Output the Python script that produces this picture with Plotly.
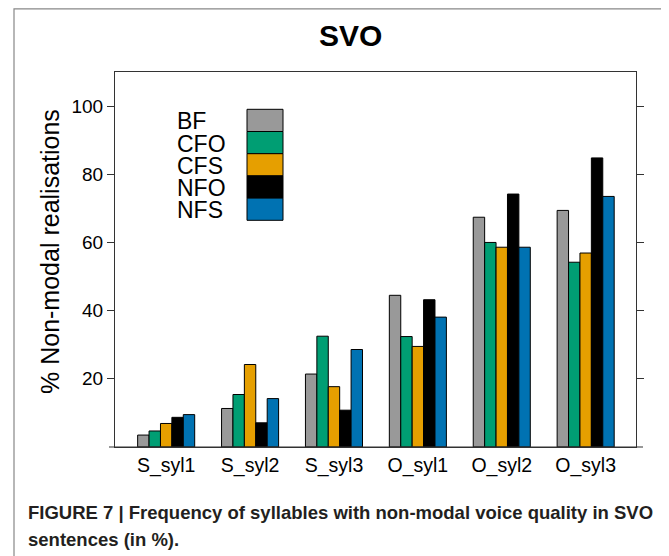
import plotly.graph_objects as go

categories = ["S_syl1", "S_syl2", "S_syl3", "O_syl1", "O_syl2", "O_syl3"]
series_names = ["BF", "CFO", "CFS", "NFO", "NFS"]
BF = [3.5, 11.3, 21.4, 44.5, 67.4, 69.4]
CFO = [4.7, 15.4, 32.5, 32.4, 60.0, 54.2]
CFS = [6.9, 24.2, 17.7, 29.5, 58.6, 56.9]
NFO = [8.7, 7.1, 10.8, 43.2, 74.2, 84.8]
NFS = [9.5, 14.2, 28.6, 38.1, 58.6, 73.5]
series_values = [BF, CFO, CFS, NFO, NFS]
colors = ["#999999", "#009E73", "#E69F00", "#000000", "#0072B2"]
y_ticks = [20, 40, 60, 80, 100]

# the page body has an 8px margin, so work in page pixels and shift
OFF = 8
W, H = 669 - OFF, 556 - OFF
L, R, T, B = 115 - OFF, 33, 72 - OFF, 109
PW, PH = W - L - R, H - T - B

def px(x):
    return (x - OFF - L) / PW

def py(y):
    return (H - B - (y - OFF)) / PH

fig = go.Figure()
for name, vals, col in zip(series_names, series_values, colors):
    fig.add_trace(go.Bar(x=categories, y=vals, name=name, marker_color=col,
                         marker_line_color="#000000", marker_line_width=1,
                         showlegend=False))

FONT = "Liberation Sans, Arial, sans-serif"
shapes = []
annotations = []

# manual legend (labels left, swatches right)
row_h = 22.2
top0 = 109.3
for i, (name, col) in enumerate(zip(series_names, colors)):
    y_top = top0 + i * row_h
    shapes.append(dict(type="rect", xref="paper", yref="paper",
                       x0=px(247), x1=px(283), y0=py(y_top), y1=py(y_top + row_h),
                       fillcolor=col, line=dict(color="#000000", width=1)))
    annotations.append(dict(xref="paper", yref="paper", x=px(175), y=py(y_top + row_h / 2 + 1),
                            text=name, showarrow=False, xanchor="left", yanchor="middle",
                            font=dict(family=FONT, size=23, color="#000000")))

# extended bottom axis line
shapes.append(dict(type="line", xref="paper", yref="paper", x0=px(109), x1=px(643),
                   y0=0, y1=0, line=dict(color="#333333", width=1.2)))
# outer figure frame
shapes.append(dict(type="rect", xref="paper", yref="paper", x0=px(14), x1=px(667),
                   y0=py(8.8), y1=py(600), line=dict(color="#888888", width=1.2),
                   fillcolor="rgba(0,0,0,0)"))

# title
annotations.append(dict(xref="paper", yref="paper", x=px(350.5), y=py(36),
                        text="<b>SVO</b>", showarrow=False, xanchor="center", yanchor="middle",
                        font=dict(family=FONT, size=30, color="#000000")))
# y-axis title
annotations.append(dict(xref="paper", yref="paper", x=px(50), y=py(252),
                        text="% Non-modal realisations", showarrow=False, textangle=-90,
                        xanchor="center", yanchor="middle",
                        font=dict(family=FONT, size=25, color="#000000")))
# caption
annotations.append(dict(xref="paper", yref="paper", x=px(26), y=py(512.5),
                        text="<b>FIGURE 7 | Frequency of syllables with non-modal voice quality in SVO</b>",
                        showarrow=False, xanchor="left", yanchor="middle",
                        font=dict(family=FONT, size=18.5, color="#231f20")))
annotations.append(dict(xref="paper", yref="paper", x=px(26), y=py(539),
                        text="<b>sentences (in %).</b>",
                        showarrow=False, xanchor="left", yanchor="middle",
                        font=dict(family=FONT, size=18.5, color="#231f20")))

fig.update_layout(
    width=W, height=H,
    margin=dict(l=L, r=R, t=T, b=B, pad=0),
    paper_bgcolor="white", plot_bgcolor="white",
    barmode="group", bargap=0.32, bargroupgap=0,
    shapes=shapes, annotations=annotations,
    font=dict(family=FONT, color="#000000"),
    xaxis=dict(range=[-0.61, 5.6], showline=True, linecolor="#333333", linewidth=1.2,
               mirror=True, ticks="", showgrid=False, zeroline=False,
               tickfont=dict(family=FONT, size=19.5, color="#000000")),
    yaxis=dict(range=[0, 110], tickvals=y_ticks, showline=True, linecolor="#333333",
               linewidth=1.2, mirror="ticks", ticks="outside", ticklen=7,
               tickcolor="#333333", showgrid=False, zeroline=False,
               tickfont=dict(family=FONT, size=19, color="#000000")),
)

fig.write_html("out.html")
